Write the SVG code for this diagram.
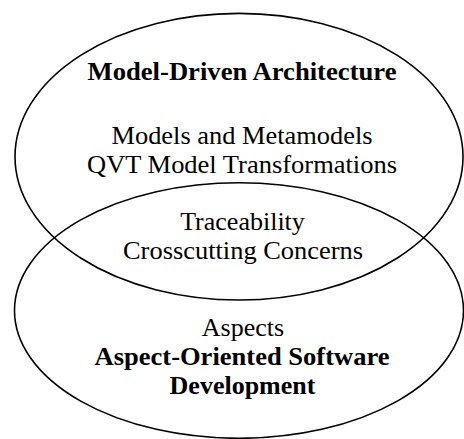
<svg xmlns="http://www.w3.org/2000/svg" width="464" height="439" viewBox="0 0 464 439">
  <style>
    .ring { fill: none; stroke: #000; stroke-width: 1.6; }
    text { font-family: "Liberation Serif", "Times New Roman", serif; font-size: 26px; fill: #000; text-anchor: middle; }
    .title { font-weight: bold; }
  </style>
  <rect width="464" height="439" fill="#fff"/>
  <!-- Model-Driven Architecture set -->
  <g id="mda">
    <ellipse class="ring" cx="239" cy="156.7" rx="224" ry="143.3"/>
    <text class="title" x="242" y="80" textLength="309" lengthAdjust="spacingAndGlyphs">Model-Driven Architecture</text>
    <text x="242" y="144" textLength="261" lengthAdjust="spacingAndGlyphs">Models and Metamodels</text>
    <text x="242" y="173" textLength="310" lengthAdjust="spacingAndGlyphs">QVT Model Transformations</text>
  </g>
  <!-- Aspect-Oriented Software Development set -->
  <g id="aosd">
    <ellipse class="ring" cx="239" cy="310.5" rx="224.5" ry="127.8"/>
    <text x="243" y="336">Aspects</text>
    <text class="title" x="242" y="365" textLength="295" lengthAdjust="spacingAndGlyphs">Aspect-Oriented Software</text>
    <text class="title" x="242.5" y="394">Development</text>
  </g>
  <!-- shared concepts in the overlap -->
  <g id="overlap">
    <text x="242.5" y="230">Traceability</text>
    <text x="243" y="259" textLength="240" lengthAdjust="spacingAndGlyphs">Crosscutting Concerns</text>
  </g>
</svg>
